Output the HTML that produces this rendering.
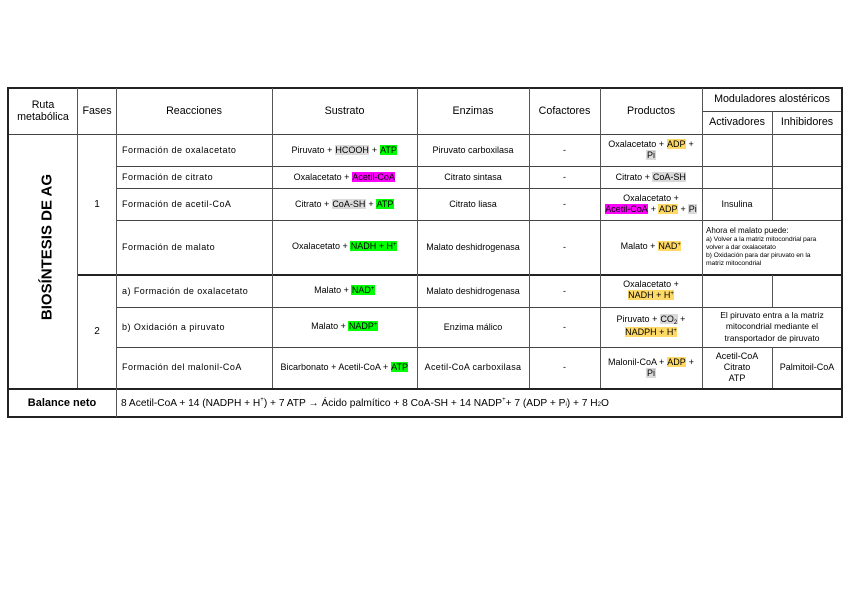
<!DOCTYPE html>
<html>
<head>
<meta charset="utf-8">
<style>
  html,body{margin:0;padding:0;background:#fff;}
  body{width:848px;height:600px;position:relative;overflow:hidden;font-family:"Liberation Sans",Arial,sans-serif;color:#000;}
  .h{position:absolute;height:1.4px;background:#444;}
  .v{position:absolute;width:1.4px;background:#555;}
  .o{background:#222;}
  .c{position:absolute;display:flex;align-items:center;justify-content:center;text-align:center;font-size:9px;line-height:11px;white-space:nowrap;}
  .hd{font-size:10.7px;line-height:12.5px;}
  .l{justify-content:flex-start;text-align:left;padding-left:6px;box-sizing:border-box;letter-spacing:0.45px;}
  .g{background:#d9d9d9;padding:0 0.5px;}
  .gr{background:#00ff00;padding:0 0.5px;}
  .m{background:#ff00ff;padding:0 0.5px;}
  .y{background:#ffd966;padding:0 0.5px;}
  .sp{font-size:6px;position:relative;top:-3px;}
  .sb{font-size:6px;position:relative;top:2px;}
</style>
</head>
<body>

<!-- Horizontal lines -->
<div class="h o" style="left:7px;top:87px;width:836px;height:2px;"></div>
<div class="h" style="left:702px;top:110.5px;width:140px;"></div>
<div class="h" style="left:8px;top:133.5px;width:834px;"></div>
<div class="h" style="left:116px;top:165.5px;width:726px;"></div>
<div class="h" style="left:116px;top:187.5px;width:726px;"></div>
<div class="h" style="left:116px;top:219.5px;width:726px;"></div>
<div class="h o" style="left:77px;top:274px;width:765px;height:2px;"></div>
<div class="h" style="left:116px;top:306.5px;width:726px;"></div>
<div class="h" style="left:116px;top:346.5px;width:726px;"></div>
<div class="h o" style="left:8px;top:387.5px;width:834px;height:2px;"></div>
<div class="h o" style="left:7px;top:416px;width:836px;height:2px;"></div>

<!-- Vertical lines -->
<div class="v o" style="left:7px;top:87px;height:331px;width:2px;"></div>
<div class="v" style="left:77px;top:88px;height:300px;"></div>
<div class="v" style="left:115.5px;top:88px;height:329px;"></div>
<div class="v" style="left:272px;top:88px;height:300px;"></div>
<div class="v" style="left:416.5px;top:88px;height:300px;"></div>
<div class="v" style="left:528.5px;top:88px;height:300px;"></div>
<div class="v" style="left:600px;top:88px;height:300px;"></div>
<div class="v" style="left:701.5px;top:88px;height:300px;"></div>
<div class="v" style="left:771.5px;top:111px;height:109px;"></div>
<div class="v" style="left:771.5px;top:275px;height:32px;"></div>
<div class="v" style="left:771.5px;top:347px;height:41px;"></div>
<div class="v o" style="left:841px;top:87px;height:331px;width:2px;"></div>

<!-- Header -->
<div class="c hd" style="left:8px;top:88px;width:70px;height:46px;">Ruta<br>metabólica</div>
<div class="c hd" style="left:78px;top:88px;width:38px;height:46px;">Fases</div>
<div class="c hd" style="left:116px;top:88px;width:156px;height:46px;">Reacciones</div>
<div class="c hd" style="left:272px;top:88px;width:145px;height:46px;">Sustrato</div>
<div class="c hd" style="left:417px;top:88px;width:112px;height:46px;">Enzimas</div>
<div class="c hd" style="left:529px;top:88px;width:71px;height:46px;">Cofactores</div>
<div class="c hd" style="left:600px;top:88px;width:102px;height:46px;">Productos</div>
<div class="c hd" style="left:702px;top:88px;width:140px;height:23px;">Moduladores alostéricos</div>
<div class="c hd" style="left:702px;top:111px;width:70px;height:23px;">Activadores</div>
<div class="c hd" style="left:772px;top:111px;width:70px;height:23px;">Inhibidores</div>

<!-- Vertical title -->
<div style="position:absolute;left:46.5px;top:247px;transform:translate(-50%,-50%) rotate(-90deg);font-weight:bold;font-size:15px;white-space:nowrap;">BIOSÍNTESIS DE AG</div>

<!-- Phases -->
<div class="c" style="left:78px;top:134px;width:38px;height:141px;font-size:10px;">1</div>
<div class="c" style="left:78px;top:275px;width:38px;height:113px;font-size:10px;">2</div>

<!-- Row 1 -->
<div class="c l" style="left:116px;top:134px;width:156px;height:32px;">Formación de oxalacetato</div>
<div class="c" style="left:272px;top:134px;width:145px;height:32px;"><span>Piruvato + <span class="g">HCOOH</span> + <span class="gr">ATP</span></span></div>
<div class="c" style="left:417px;top:134px;width:112px;height:32px;">Piruvato carboxilasa</div>
<div class="c" style="left:529px;top:134px;width:71px;height:32px;">-</div>
<div class="c" style="left:600px;top:134px;width:102px;height:32px;"><span>Oxalacetato + <span class="y">ADP</span> +<br><span class="g">Pi</span></span></div>

<!-- Row 2 -->
<div class="c l" style="left:116px;top:166px;width:156px;height:22px;">Formación de citrato</div>
<div class="c" style="left:272px;top:166px;width:145px;height:22px;"><span>Oxalacetato + <span class="m">Acetil-CoA</span></span></div>
<div class="c" style="left:417px;top:166px;width:112px;height:22px;">Citrato sintasa</div>
<div class="c" style="left:529px;top:166px;width:71px;height:22px;">-</div>
<div class="c" style="left:600px;top:166px;width:102px;height:22px;"><span>Citrato + <span class="g">CoA-SH</span></span></div>

<!-- Row 3 -->
<div class="c l" style="left:116px;top:188px;width:156px;height:32px;">Formación de acetil-CoA</div>
<div class="c" style="left:272px;top:188px;width:145px;height:32px;"><span>Citrato + <span class="g">CoA-SH</span> + <span class="gr">ATP</span></span></div>
<div class="c" style="left:417px;top:188px;width:112px;height:32px;">Citrato liasa</div>
<div class="c" style="left:529px;top:188px;width:71px;height:32px;">-</div>
<div class="c" style="left:600px;top:188px;width:102px;height:32px;"><span>Oxalacetato +<br><span class="m">Acetil-CoA</span> + <span class="y">ADP</span> + <span class="g">Pi</span></span></div>
<div class="c" style="left:702px;top:188px;width:70px;height:32px;">Insulina</div>

<!-- Row 4 -->
<div class="c l" style="left:116px;top:220px;width:156px;height:55px;">Formación de malato</div>
<div class="c" style="left:272px;top:220px;width:145px;height:55px;"><span>Oxalacetato + <span class="gr">NADH + H<span class="sp">+</span></span></span></div>
<div class="c" style="left:417px;top:220px;width:112px;height:55px;">Malato deshidrogenasa</div>
<div class="c" style="left:529px;top:220px;width:71px;height:55px;">-</div>
<div class="c" style="left:600px;top:220px;width:102px;height:55px;"><span>Malato + <span class="y">NAD<span class="sp">+</span></span></span></div>
<div style="position:absolute;left:706px;top:225px;width:134px;white-space:nowrap;">
  <div style="font-size:8px;line-height:11px;">Ahora el malato puede:</div>
  <div style="font-size:6.8px;line-height:8px;letter-spacing:-0.1px;">a) Volver a la matriz mitocondrial para<br>volver a dar oxalacetato<br>b) Oxidación para dar piruvato en la<br>matriz mitocondrial</div>
</div>

<!-- Row 5 -->
<div class="c l" style="left:116px;top:275px;width:156px;height:32px;">a) Formación de oxalacetato</div>
<div class="c" style="left:272px;top:275px;width:145px;height:32px;"><span>Malato + <span class="gr">NAD<span class="sp">+</span></span></span></div>
<div class="c" style="left:417px;top:275px;width:112px;height:32px;">Malato deshidrogenasa</div>
<div class="c" style="left:529px;top:275px;width:71px;height:32px;">-</div>
<div class="c" style="left:600px;top:275px;width:102px;height:32px;"><span>Oxalacetato +<br><span class="y">NADH + H<span class="sp">+</span></span></span></div>

<!-- Row 6 -->
<div class="c l" style="left:116px;top:307px;width:156px;height:40px;">b) Oxidación a piruvato</div>
<div class="c" style="left:272px;top:307px;width:145px;height:40px;"><span>Malato + <span class="gr">NADP<span class="sp">+</span></span></span></div>
<div class="c" style="left:417px;top:307px;width:112px;height:40px;">Enzima málico</div>
<div class="c" style="left:529px;top:307px;width:71px;height:40px;">-</div>
<div class="c" style="left:600px;top:307px;width:102px;height:40px;"><span>Piruvato + <span class="g">CO<span class="sb">2</span></span> +<br><span class="y">NADPH + H<span class="sp">+</span></span></span></div>
<div class="c" style="left:702px;top:307px;width:140px;height:40px;font-size:8.5px;line-height:11.5px;">El piruvato entra a la matriz<br>mitocondrial mediante el<br>transportador de piruvato</div>

<!-- Row 7 -->
<div class="c l" style="left:116px;top:347px;width:156px;height:41px;">Formación del malonil-CoA</div>
<div class="c" style="left:272px;top:347px;width:145px;height:41px;"><span>Bicarbonato + Acetil-CoA + <span class="gr">ATP</span></span></div>
<div class="c" style="left:417px;top:347px;width:112px;height:41px;letter-spacing:0.3px;">Acetil-CoA carboxilasa</div>
<div class="c" style="left:529px;top:347px;width:71px;height:41px;">-</div>
<div class="c" style="left:600px;top:347px;width:102px;height:41px;"><span>Malonil-CoA + <span class="y">ADP</span> +<br><span class="g">Pi</span></span></div>
<div class="c" style="left:702px;top:347px;width:70px;height:41px;">Acetil-CoA<br>Citrato<br>ATP</div>
<div class="c" style="left:772px;top:347px;width:70px;height:41px;">Palmitoil-CoA</div>

<!-- Balance -->
<div class="c" style="left:8px;top:389px;width:108px;height:29px;font-size:11px;font-weight:bold;">Balance neto</div>
<div class="c" style="left:116px;top:389px;width:726px;height:29px;justify-content:flex-start;padding-left:5px;box-sizing:border-box;font-size:10.2px;">8 Acetil-CoA + 14 (NADPH + H<span class="sp">+</span>) + 7 ATP → Ácido palmítico + 8 CoA-SH + 14 NADP<span class="sp">+</span> + 7 (ADP + P<span class="sb">i</span>) + 7 H<span class="sb">2</span>O</div>

</body>
</html>
